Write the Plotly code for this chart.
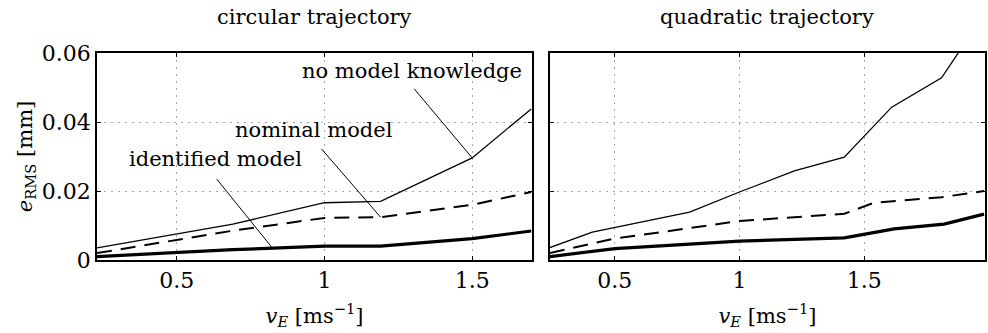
import numpy as np
import plotly.graph_objects as go
from plotly.subplots import make_subplots

# Circular trajectory: end-effector speed vs RMS tracking error
circ_v = [0.23, 0.69, 1.0, 1.19, 1.5, 1.70]
circ_none = [0.0035, 0.0104, 0.0166, 0.0170, 0.0296, 0.0438]
circ_nom = [0.0020, 0.0085, 0.0122, 0.0124, 0.0160, 0.0197]
circ_v_id = [0.23, 0.69, 1.0, 1.19, 1.5, 1.70]
circ_id = [0.0010, 0.0030, 0.0040, 0.0040, 0.0062, 0.0084]

# Quadratic trajectory
quad_v = [0.24, 0.41, 0.80, 1.01, 1.22, 1.42, 1.61, 1.81, 1.98]
quad_none = [0.0036, 0.0081, 0.0139, 0.0200, 0.0258, 0.0298, 0.0443, 0.0528, 0.0712]
quad_v_nom = [0.24, 0.49, 1.0, 1.42, 1.54, 1.81, 1.98]
quad_nom = [0.0020, 0.0061, 0.0113, 0.0134, 0.0166, 0.0182, 0.0200]
quad_v_id = [0.24, 0.5, 1.0, 1.42, 1.62, 1.82, 1.98]
quad_id = [0.0010, 0.0033, 0.0055, 0.0064, 0.0090, 0.0104, 0.0133]

x_ticks = [0.5, 1, 1.5]
x_tick_text = ["0.5", "1", "1.5"]
y_ticks = [0, 0.02, 0.04, 0.06]
y_tick_text = ["0", "0.02", "0.04", "0.06"]

# Curve labels: text position, pointer start, pointer target x
labels = ["no model knowledge", "nominal model", "identified model"]
label_x = [1.295, 0.966, 0.632]
label_y = [0.0548, 0.0377, 0.0293]
ptr_x0 = [1.304, 0.99, 0.635]
ptr_y0 = [0.0496, 0.0322, 0.0235]
ptr_target_x = [1.5, 1.19, 0.824]

FONT = "DejaVu Serif"
FS = 21

fig = make_subplots(rows=1, cols=2, horizontal_spacing=0.02,
                    subplot_titles=("circular trajectory", "quadratic trajectory"))

thin = dict(color="black", width=1.3)
dashed = dict(color="black", width=2.0, dash="15px,9px")
thick = dict(color="black", width=3.2)

fig.add_trace(go.Scatter(x=circ_v, y=circ_none, mode="lines", line=thin), 1, 1)
fig.add_trace(go.Scatter(x=circ_v, y=circ_nom, mode="lines", line=dashed), 1, 1)
fig.add_trace(go.Scatter(x=circ_v_id, y=circ_id, mode="lines", line=thick), 1, 1)
fig.add_trace(go.Scatter(x=quad_v, y=quad_none, mode="lines", line=thin), 1, 2)
fig.add_trace(go.Scatter(x=quad_v_nom, y=quad_nom, mode="lines", line=dashed), 1, 2)
fig.add_trace(go.Scatter(x=quad_v_id, y=quad_id, mode="lines", line=thick), 1, 2)

# Pointer lines from each label to its curve
series_for_label = [(circ_v, circ_none), (circ_v, circ_nom), (circ_v_id, circ_id)]
for i, (sx, sy) in enumerate(series_for_label):
    tx = ptr_target_x[i]
    ty = float(np.interp(tx, sx, sy))
    fig.add_trace(go.Scatter(x=[ptr_x0[i], tx], y=[ptr_y0[i], ty], mode="lines",
                             line=dict(color="black", width=1.0)), 1, 1)
    fig.add_annotation(x=label_x[i], y=label_y[i], xref="x", yref="y", text=labels[i],
                       showarrow=False, font=dict(family=FONT, size=FS, color="black"))

axis_common = dict(showline=True, linecolor="black", linewidth=1.5, mirror="ticks",
                   ticks="inside", ticklen=4, tickcolor="black", tickwidth=1,
                   showgrid=True, gridcolor="#a8a8a8", griddash="2px,5px", gridwidth=1,
                   zeroline=False, tickfont=dict(family=FONT, size=FS + 1, color="black"))

fig.update_xaxes(**axis_common, tickvals=x_ticks, ticktext=x_tick_text)
fig.update_yaxes(**axis_common, tickvals=y_ticks, ticktext=y_tick_text, range=[0, 0.06])
fig.update_xaxes(range=[0.23, 1.703], row=1, col=1)
fig.update_xaxes(range=[0.24, 1.984], row=1, col=2)
fig.update_yaxes(showticklabels=False, row=1, col=2)

xlab = "<i>v<sub>E</sub></i> [ms<sup>−1</sup>]"
fig.update_xaxes(title=dict(text=xlab, font=dict(family=FONT, size=FS, color="black"),
                            standoff=16))
fig.update_yaxes(title=dict(text="<i>e</i><sub>RMS</sub> [mm]",
                            font=dict(family=FONT, size=FS, color="black"), standoff=4),
                 row=1, col=1)

fig.update_layout(
    width=988, height=333,
    margin=dict(l=97, r=1, t=53, b=73),
    paper_bgcolor="white", plot_bgcolor="white",
    showlegend=False,
    font=dict(family=FONT, size=FS, color="black"),
)
fig.layout.xaxis.domain = [0.0, 0.49]
fig.layout.xaxis2.domain = [0.51, 1.0]
for a in fig.layout.annotations[:2]:
    a.font = dict(family=FONT, size=FS, color="black")
    a.yshift = 22

fig.write_html("out.html")
